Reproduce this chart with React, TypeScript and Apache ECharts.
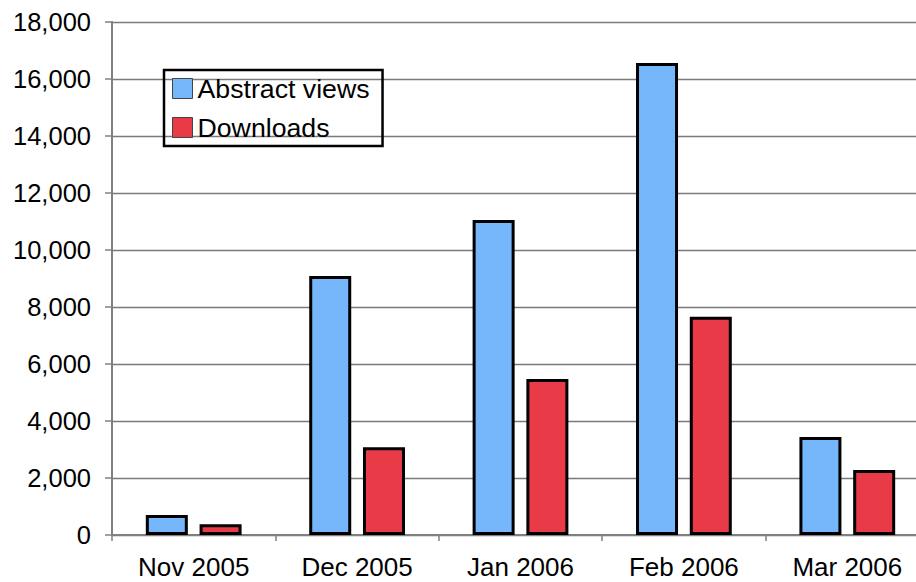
import React, { useEffect, useRef } from "react";
import * as echarts from "echarts";

const categories = ["Nov 2005", "Dec 2005", "Jan 2006", "Feb 2006", "Mar 2006"];
const abstractViews = [700, 9090, 11050, 16560, 3440];
const downloads = [380, 3080, 5470, 7660, 2280];
const seriesNames = ["Abstract views", "Downloads"];

export default function App() {
  const ref = useRef<HTMLDivElement>(null);
  useEffect(() => {
    if (!ref.current) return;
    const chart = echarts.init(ref.current, null, { renderer: "svg" });
    const font = "'Liberation Sans', Arial, sans-serif";
    chart.setOption({
      animation: false,
      backgroundColor: "#ffffff",
      textStyle: { fontFamily: font },
      grid: { left: 112, top: 22, right: 1, bottom: 47, containLabel: false },
      legend: {
        orient: "vertical",
        left: 164,
        top: 70,
        padding: [5, 13, 5, 8],
        itemGap: 12,
        itemWidth: 20,
        itemHeight: 20,
        borderColor: "#000",
        borderWidth: 2.5,
        icon: "rect",
        itemStyle: { borderColor: "#444", borderWidth: 1 },
        textStyle: { fontSize: 26.7, color: "#000", fontFamily: font },
        data: seriesNames,
      },
      xAxis: {
        type: "category",
        data: categories,
        axisLine: { lineStyle: { color: "#808080", width: 2 } },
        axisTick: { show: true, length: 6, lineStyle: { color: "#808080", width: 1.5 } },
        axisLabel: { fontSize: 26, color: "#000", margin: 19, fontFamily: font },
        splitLine: { show: false },
      },
      yAxis: {
        type: "value",
        min: 0,
        max: 18000,
        interval: 2000,
        axisLine: { show: true, lineStyle: { color: "#808080", width: 2 } },
        axisTick: { show: true, length: 7, lineStyle: { color: "#808080", width: 1.5 } },
        axisLabel: {
          fontSize: 25.5,
          color: "#000",
          margin: 21,
          fontFamily: font,
          formatter: (v: number) => v.toLocaleString("en-US"),
        },
        splitLine: { show: true, lineStyle: { color: "#7a7a7a", width: 1.3 } },
      },
      series: [
        {
          name: seriesNames[0],
          type: "bar",
          data: abstractViews,
          barWidth: 42,
          barGap: "28%",
          itemStyle: { color: "#76B6FB", borderColor: "#000", borderWidth: 3 },
        },
        {
          name: seriesNames[1],
          type: "bar",
          data: downloads,
          barWidth: 42,
          barGap: "28%",
          itemStyle: { color: "#E93A47", borderColor: "#000", borderWidth: 3 },
        },
      ],
    });
    return () => chart.dispose();
  }, []);
  return (
    <div
      style={{
        position: "absolute",
        left: 0,
        top: 0,
        width: 916,
        height: 582,
        overflow: "hidden",
      }}
    >
      <div ref={ref} style={{ width: 930, height: 582 }} />
    </div>
  );
}
